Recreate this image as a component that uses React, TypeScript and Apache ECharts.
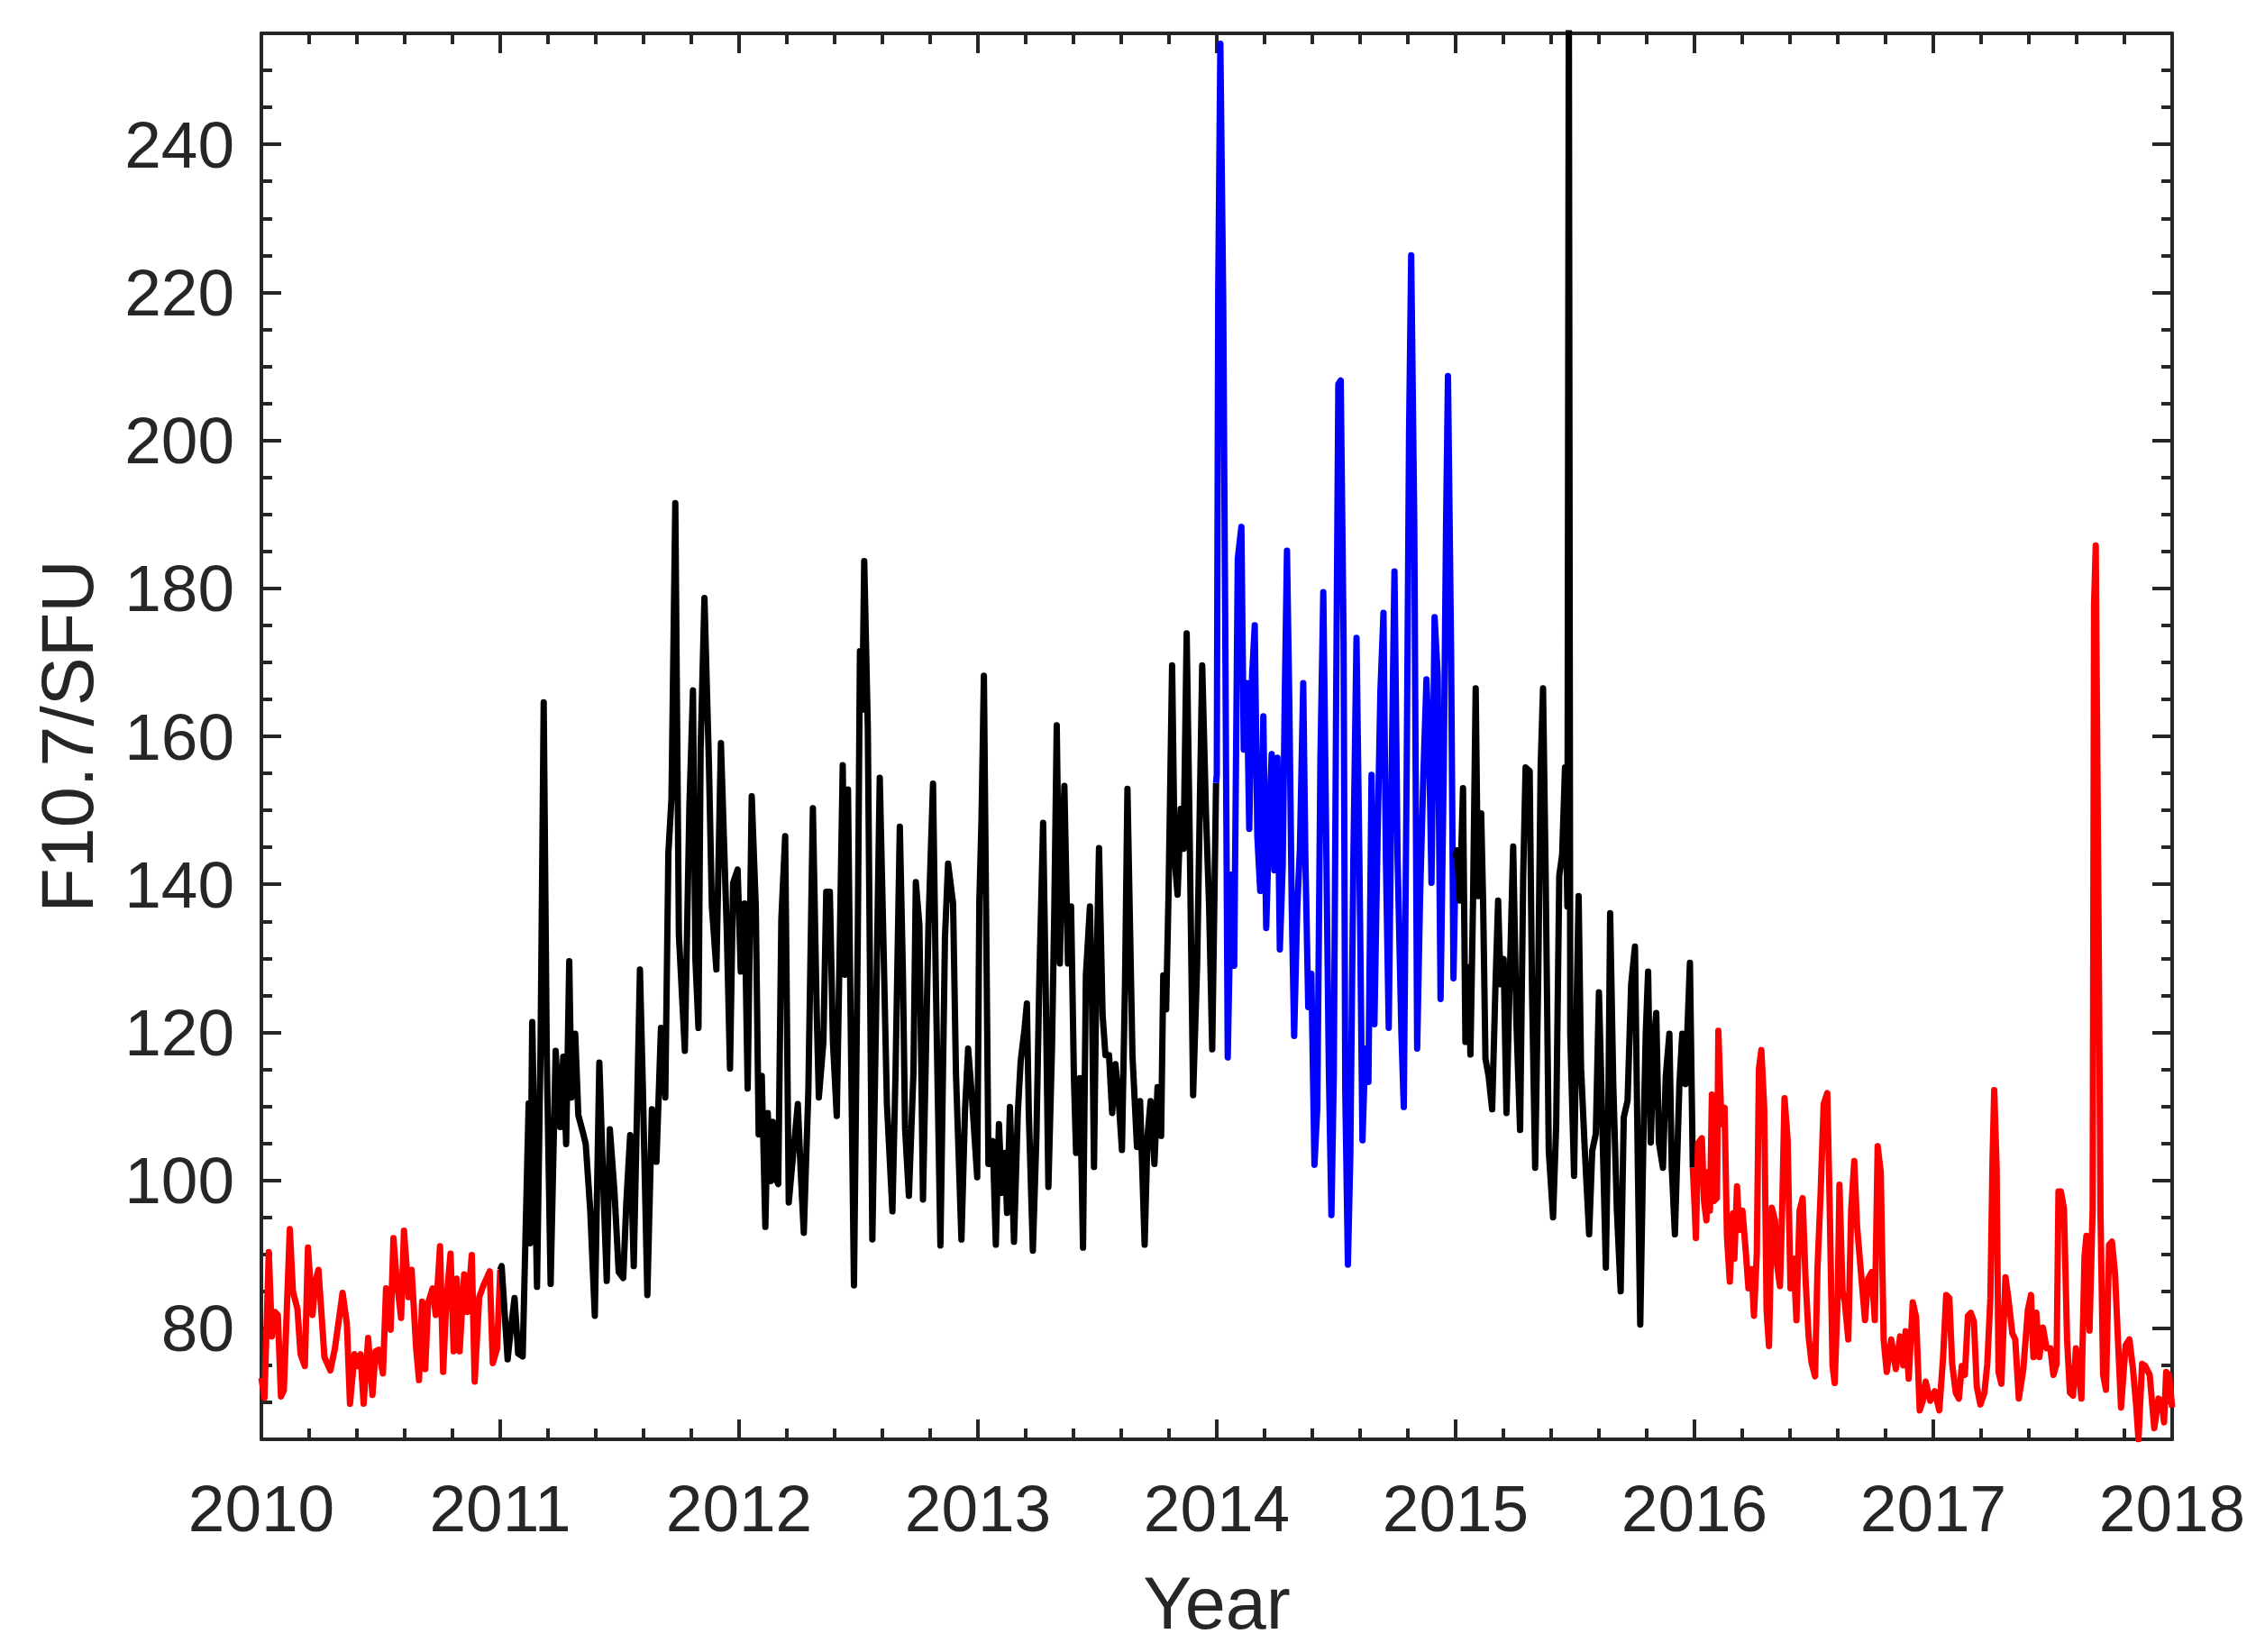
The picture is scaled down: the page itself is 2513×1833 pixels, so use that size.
import React, { useEffect, useRef } from "react";
import * as echarts from "echarts";

// [decimal year, F10.7 (SFU)]
const red2010: [number, number][] = [
  [2010.000, 73.3], [2010.013, 70.6], [2010.031, 90.3], [2010.044, 78.9], [2010.057, 82.2], [2010.069, 81.8],
  [2010.082, 70.8], [2010.094, 71.6], [2010.119, 93.4], [2010.132, 85.0], [2010.151, 82.6], [2010.164, 76.5],
  [2010.182, 74.9], [2010.195, 90.9], [2010.214, 81.8], [2010.226, 86.3], [2010.239, 87.9], [2010.252, 81.8],
  [2010.264, 76.1], [2010.289, 74.3], [2010.308, 77.3], [2010.340, 84.8], [2010.358, 80.6], [2010.371, 69.8],
  [2010.390, 76.5], [2010.403, 74.9], [2010.415, 76.5], [2010.428, 69.8], [2010.447, 78.7], [2010.465, 71.0],
  [2010.478, 76.9], [2010.491, 77.1], [2010.509, 73.9], [2010.522, 85.4], [2010.541, 79.8], [2010.553, 92.2],
  [2010.566, 86.7], [2010.585, 81.4], [2010.597, 93.2], [2010.610, 87.5], [2010.616, 84.2], [2010.629, 87.9],
  [2010.648, 77.3], [2010.660, 73.0], [2010.673, 83.6], [2010.686, 74.5], [2010.698, 83.4], [2010.717, 85.4],
  [2010.730, 81.8], [2010.748, 91.1], [2010.761, 74.1], [2010.774, 83.4], [2010.792, 90.1], [2010.805, 76.9],
  [2010.818, 86.7], [2010.830, 76.9], [2010.849, 87.3], [2010.862, 82.2], [2010.881, 89.9], [2010.893, 72.8],
  [2010.912, 84.2], [2010.931, 85.9], [2010.956, 87.7], [2010.969, 75.3], [2010.987, 77.3], [2011.000, 87.9],
];

const black2011: [number, number][] = [
  [2011.006, 88.4], [2011.031, 75.8], [2011.044, 79.8], [2011.060, 84.1], [2011.075, 76.6], [2011.094, 76.2],
  [2011.119, 110.4], [2011.125, 91.5], [2011.134, 121.4], [2011.154, 85.6], [2011.169, 118.2], [2011.182, 164.6],
  [2011.195, 116.7], [2011.211, 86.0], [2011.232, 117.5], [2011.251, 107.2], [2011.264, 116.7], [2011.276, 104.9],
  [2011.289, 129.6], [2011.298, 111.2], [2011.314, 119.8], [2011.327, 108.8], [2011.346, 106.5], [2011.358, 104.9],
  [2011.377, 95.9], [2011.396, 81.7], [2011.415, 115.9], [2011.434, 97.0], [2011.446, 86.4], [2011.459, 106.9],
  [2011.478, 98.6], [2011.496, 87.6], [2011.515, 86.8], [2011.528, 97.0], [2011.544, 106.1], [2011.559, 88.4],
  [2011.585, 128.5], [2011.597, 112.7], [2011.616, 84.5], [2011.635, 109.6], [2011.654, 102.5], [2011.673, 120.6],
  [2011.691, 111.2], [2011.704, 144.2], [2011.717, 151.6], [2011.733, 191.5], [2011.748, 133.2], [2011.773, 117.5],
  [2011.792, 150.5], [2011.807, 166.2], [2011.817, 130.0], [2011.830, 120.6], [2011.839, 158.3], [2011.855, 178.7],
  [2011.874, 156.0], [2011.886, 137.1], [2011.905, 128.5], [2011.924, 159.1], [2011.937, 145.7], [2011.949, 133.2],
  [2011.962, 115.1], [2011.975, 140.2], [2011.994, 142.0],
];

const black2012: [number, number][] = [
  [2012.007, 128.2], [2012.023, 137.4], [2012.036, 112.4], [2012.053, 151.9], [2012.070, 137.0], [2012.082, 106.2],
  [2012.095, 114.1], [2012.110, 93.7], [2012.120, 109.1], [2012.133, 99.9], [2012.141, 107.9], [2012.151, 100.4],
  [2012.164, 99.5], [2012.177, 135.3], [2012.193, 146.5], [2012.208, 97.0], [2012.227, 103.7], [2012.246, 110.3],
  [2012.258, 101.2], [2012.271, 92.9], [2012.290, 112.0], [2012.309, 150.3], [2012.325, 122.8], [2012.334, 111.2],
  [2012.353, 118.7], [2012.365, 139.0], [2012.380, 139.0], [2012.393, 118.7], [2012.409, 108.7], [2012.422, 132.8],
  [2012.434, 156.1], [2012.443, 127.8], [2012.456, 152.8], [2012.466, 124.5], [2012.481, 85.8], [2012.497, 132.8],
  [2012.506, 171.5], [2012.516, 163.6], [2012.524, 183.7], [2012.539, 161.1], [2012.558, 92.0], [2012.573, 121.2],
  [2012.589, 154.4], [2012.604, 132.8], [2012.619, 110.3], [2012.642, 95.8], [2012.655, 114.5], [2012.673, 147.8],
  [2012.686, 127.8], [2012.695, 107.0], [2012.711, 97.9], [2012.730, 114.5], [2012.740, 140.3], [2012.755, 134.5],
  [2012.770, 97.4], [2012.793, 134.5], [2012.812, 153.6], [2012.824, 126.2], [2012.843, 91.2], [2012.862, 132.8],
  [2012.875, 142.8], [2012.896, 137.4], [2012.908, 114.5], [2012.931, 92.0], [2012.946, 109.5], [2012.959, 117.8],
  [2012.975, 111.2], [2012.997, 100.4],
];

const black2013: [number, number][] = [
  [2013.006, 137.8], [2013.015, 148.7], [2013.025, 168.2], [2013.034, 137.0], [2013.044, 102.2], [2013.062, 105.3],
  [2013.075, 91.3], [2013.088, 107.6], [2013.100, 98.3], [2013.113, 103.7], [2013.122, 95.6], [2013.134, 109.9],
  [2013.151, 91.7], [2013.167, 109.1], [2013.179, 116.1], [2013.195, 120.4], [2013.205, 123.9], [2013.213, 109.1],
  [2013.230, 90.5], [2013.245, 106.0], [2013.257, 127.0], [2013.273, 148.3], [2013.283, 127.7], [2013.295, 99.1],
  [2013.310, 117.7], [2013.320, 137.0], [2013.330, 161.5], [2013.343, 129.3], [2013.352, 143.2], [2013.362, 153.3],
  [2013.377, 129.3], [2013.390, 137.0], [2013.402, 113.8], [2013.411, 103.7], [2013.427, 113.8], [2013.440, 90.9],
  [2013.452, 127.7], [2013.469, 137.0], [2013.478, 123.1], [2013.486, 101.8], [2013.496, 127.7], [2013.507, 144.9],
  [2013.522, 122.3], [2013.534, 116.9], [2013.549, 116.9], [2013.562, 109.1], [2013.576, 115.7], [2013.588, 111.5],
  [2013.603, 104.1], [2013.616, 127.0], [2013.626, 152.9], [2013.637, 133.9], [2013.647, 116.9], [2013.666, 104.5],
  [2013.679, 110.7], [2013.698, 91.3], [2013.710, 106.0], [2013.723, 110.7], [2013.739, 102.2], [2013.752, 112.6],
  [2013.767, 106.0], [2013.776, 127.7], [2013.788, 123.1], [2013.798, 138.6], [2013.813, 169.6], [2013.824, 143.2],
  [2013.836, 138.6], [2013.849, 150.2], [2013.861, 144.8], [2013.874, 173.9], [2013.886, 147.9], [2013.901, 111.5],
  [2013.918, 129.3], [2013.939, 169.6], [2013.955, 149.4], [2013.968, 137.0], [2013.981, 117.7], [2013.997, 153.7],
];

const blue2014: [number, number][] = [
  [2014.000, 154.8], [2014.006, 219.9], [2014.015, 253.6], [2014.027, 218.8], [2014.035, 177.3], [2014.046, 116.6],
  [2014.060, 141.3], [2014.073, 129.0], [2014.088, 184.0], [2014.103, 188.3], [2014.113, 158.2], [2014.126, 167.2],
  [2014.136, 147.5], [2014.148, 168.3], [2014.159, 175.0], [2014.170, 146.4], [2014.182, 139.1], [2014.195, 162.7],
  [2014.207, 134.1], [2014.220, 149.2], [2014.230, 157.6], [2014.241, 141.9], [2014.254, 157.1], [2014.264, 131.2],
  [2014.276, 142.5], [2014.285, 166.0], [2014.294, 185.1], [2014.304, 163.8], [2014.314, 136.9], [2014.324, 119.5],
  [2014.337, 136.9], [2014.348, 144.7], [2014.362, 167.2], [2014.371, 143.6], [2014.383, 123.4], [2014.396, 127.9],
  [2014.409, 102.1], [2014.421, 109.9], [2014.434, 157.1], [2014.446, 179.5], [2014.459, 143.6], [2014.469, 115.5],
  [2014.480, 95.3], [2014.490, 114.4], [2014.500, 166.0], [2014.509, 207.6], [2014.519, 208.1], [2014.531, 172.8],
  [2014.538, 112.2], [2014.549, 88.6], [2014.559, 103.2], [2014.572, 143.6], [2014.585, 173.3], [2014.597, 143.6],
  [2014.610, 105.4], [2014.622, 117.8], [2014.635, 113.3], [2014.648, 154.8], [2014.660, 121.1], [2014.673, 145.8],
  [2014.685, 166.0], [2014.698, 176.7], [2014.708, 143.6], [2014.720, 120.6], [2014.732, 154.8], [2014.744, 182.3],
  [2014.757, 143.6], [2014.773, 120.0], [2014.783, 109.9], [2014.795, 154.8], [2014.805, 200.8], [2014.814, 225.0],
  [2014.827, 188.5], [2014.839, 117.8], [2014.851, 138.0], [2014.865, 154.8], [2014.878, 167.7], [2014.890, 157.1],
  [2014.899, 140.2], [2014.912, 176.1], [2014.925, 168.3], [2014.937, 124.5], [2014.950, 154.8], [2014.960, 188.5],
  [2014.968, 208.7], [2014.981, 171.6], [2014.991, 127.3], [2015.000, 143.6],
];

const black2015: [number, number][] = [
  [2015.006, 144.6], [2015.018, 137.8], [2015.031, 153.0], [2015.041, 118.7], [2015.054, 128.8], [2015.062, 117.0],
  [2015.073, 137.8], [2015.084, 166.5], [2015.094, 138.4], [2015.107, 149.6], [2015.115, 137.8], [2015.125, 116.4],
  [2015.138, 114.1], [2015.153, 109.6], [2015.167, 126.5], [2015.178, 137.8], [2015.188, 126.5], [2015.201, 129.9],
  [2015.213, 109.1], [2015.226, 126.5], [2015.241, 145.1], [2015.255, 120.9], [2015.270, 106.8], [2015.283, 141.2],
  [2015.293, 155.8], [2015.310, 155.3], [2015.320, 125.4], [2015.333, 101.7], [2015.346, 127.7], [2015.356, 155.8],
  [2015.366, 166.5], [2015.377, 141.2], [2015.390, 104.0], [2015.408, 95.0], [2015.421, 107.4], [2015.434, 141.2],
  [2015.446, 144.0], [2015.458, 155.8], [2015.468, 137.0], [2015.474, 262.0], [2015.480, 119.8], [2015.496, 100.6],
  [2015.507, 124.3], [2015.515, 138.4], [2015.525, 115.3], [2015.541, 104.0], [2015.559, 92.7], [2015.572, 104.0],
  [2015.587, 106.3], [2015.600, 125.4], [2015.610, 113.0], [2015.629, 88.2], [2015.639, 108.5], [2015.647, 136.1],
  [2015.660, 113.0], [2015.675, 96.1], [2015.691, 85.0], [2015.704, 108.5], [2015.720, 110.8], [2015.735, 126.5],
  [2015.751, 131.6], [2015.763, 101.7], [2015.773, 80.5], [2015.786, 105.1], [2015.796, 119.8], [2015.806, 128.2],
  [2015.817, 105.1], [2015.830, 118.7], [2015.840, 122.6], [2015.851, 105.1], [2015.868, 101.7], [2015.880, 114.1],
  [2015.895, 119.8], [2015.905, 101.7], [2015.918, 92.7], [2015.937, 113.0], [2015.949, 119.8], [2015.962, 113.0],
  [2015.981, 129.4], [2015.993, 101.7],
];

const red2016: [number, number][] = [
  [2016.000, 97.0], [2016.006, 92.2], [2016.015, 105.0], [2016.031, 105.7], [2016.040, 97.2], [2016.050, 94.6],
  [2016.056, 101.1], [2016.065, 95.9], [2016.073, 111.6], [2016.081, 97.2], [2016.094, 97.6], [2016.100, 120.2],
  [2016.113, 107.6], [2016.126, 109.8], [2016.136, 92.4], [2016.148, 86.3], [2016.161, 95.5], [2016.167, 89.4],
  [2016.178, 99.2], [2016.188, 93.3], [2016.201, 95.9], [2016.214, 90.7], [2016.226, 85.4], [2016.239, 88.0],
  [2016.249, 81.7], [2016.261, 90.2], [2016.270, 115.1], [2016.280, 117.6], [2016.292, 109.8], [2016.302, 82.4],
  [2016.312, 77.6], [2016.324, 96.3], [2016.337, 94.6], [2016.346, 88.5], [2016.358, 85.7], [2016.367, 95.9],
  [2016.377, 111.1], [2016.390, 105.5], [2016.402, 85.4], [2016.415, 89.4], [2016.427, 81.1], [2016.440, 95.9],
  [2016.453, 97.6], [2016.465, 86.7], [2016.478, 78.9], [2016.490, 75.4], [2016.505, 73.5], [2016.515, 88.0],
  [2016.528, 98.1], [2016.541, 110.3], [2016.556, 111.8], [2016.566, 96.8], [2016.578, 75.0], [2016.587, 72.6],
  [2016.600, 84.6], [2016.607, 99.4], [2016.620, 85.0], [2016.629, 83.7], [2016.644, 78.5], [2016.656, 95.9],
  [2016.669, 102.6], [2016.681, 93.7], [2016.698, 87.2], [2016.714, 81.1], [2016.727, 86.7], [2016.742, 87.6],
  [2016.755, 81.1], [2016.767, 104.6], [2016.780, 101.1], [2016.792, 78.5], [2016.805, 74.1], [2016.824, 78.5],
  [2016.843, 74.5], [2016.861, 78.9], [2016.874, 75.0], [2016.884, 79.6], [2016.897, 73.2], [2016.914, 83.5],
  [2016.928, 81.5], [2016.943, 68.9], [2016.956, 70.2], [2016.968, 72.8], [2016.987, 70.2],
];

const red2017: [number, number][] = [
  [2017.006, 71.5], [2017.025, 68.9], [2017.041, 76.1], [2017.054, 84.5], [2017.067, 84.1], [2017.079, 75.2],
  [2017.094, 71.3], [2017.107, 70.5], [2017.119, 74.9], [2017.132, 73.7], [2017.145, 81.7], [2017.157, 82.1],
  [2017.170, 80.9], [2017.182, 72.1], [2017.197, 69.7], [2017.214, 71.3], [2017.226, 75.2], [2017.239, 84.1],
  [2017.248, 102.9], [2017.255, 112.2], [2017.265, 101.7], [2017.273, 74.1], [2017.285, 72.5], [2017.302, 86.9],
  [2017.314, 84.1], [2017.331, 79.3], [2017.343, 78.5], [2017.358, 70.5], [2017.377, 74.5], [2017.396, 82.5],
  [2017.409, 84.5], [2017.419, 76.1], [2017.431, 82.1], [2017.444, 76.1], [2017.459, 80.1], [2017.474, 77.3],
  [2017.490, 77.3], [2017.503, 73.7], [2017.516, 75.2], [2017.524, 98.5], [2017.534, 98.5], [2017.547, 96.1],
  [2017.560, 78.5], [2017.572, 71.3], [2017.585, 70.9], [2017.597, 77.3], [2017.610, 73.7], [2017.620, 70.5],
  [2017.633, 89.7], [2017.641, 92.5], [2017.654, 79.7], [2017.667, 96.1], [2017.673, 177.7], [2017.680, 185.8],
  [2017.692, 134.5], [2017.700, 95.3], [2017.711, 73.7], [2017.723, 71.7], [2017.736, 91.3], [2017.748, 91.7],
  [2017.761, 87.3], [2017.773, 78.5], [2017.786, 69.3], [2017.805, 77.7], [2017.821, 78.5], [2017.836, 74.5],
  [2017.849, 69.7], [2017.859, 65.0], [2017.874, 75.2], [2017.887, 74.9], [2017.906, 73.7], [2017.925, 66.5],
  [2017.943, 70.5], [2017.956, 70.1], [2017.966, 67.3], [2017.975, 74.1], [2017.987, 73.7], [2018.000, 69.3],
];

const yMajorTicks = [80, 100, 120, 140, 160, 180, 200, 220, 240];
const yMinorTicks = [70, 75, 85, 90, 95, 105, 110, 115, 125, 130, 135, 145, 150, 155, 165, 170, 175, 185, 190, 195,
  205, 210, 215, 225, 230, 235, 245, 250];

const AX = "#262626";
const FONT = 'Arial, "Liberation Sans", sans-serif';

const segments: { color: string; data: [number, number][] }[] = [
  { color: "#ff0000", data: red2010 },
  { color: "#000000", data: [red2010[red2010.length - 1], ...black2011, ...black2012, ...black2013] },
  { color: "#0000ff", data: [black2013[black2013.length - 1], ...blue2014] },
  { color: "#000000", data: [blue2014[blue2014.length - 1], ...black2015] },
  { color: "#ff0000", data: [black2015[black2015.length - 1], ...red2016, ...red2017] },
];

export default function App() {
  const ref = useRef<HTMLDivElement>(null);
  useEffect(() => {
    if (!ref.current) return;
    const chart = echarts.init(ref.current, undefined, { renderer: "svg" });
    const lineStyle = { color: AX, width: 4 };
    const gridRect = { left: 290, right: 103, top: 37, bottom: 236 };
    const baseX = {
      type: "value" as const,
      min: 2010,
      max: 2018,
      interval: 1,
      splitLine: { show: false },
      axisLine: { show: true, onZero: false, lineStyle },
      axisTick: { show: true, inside: true, length: 22, lineStyle },
      minorTick: { show: true, splitNumber: 5, length: 12, lineStyle },
    };
    chart.setOption({
      animation: false,
      backgroundColor: "#ffffff",
      grid: [gridRect, gridRect],
      xAxis: [
        {
          ...baseX,
          gridIndex: 0,
          position: "bottom",
          axisLabel: { show: true, color: AX, fontSize: 73, fontFamily: FONT, margin: 40, formatter: (v: number) => String(v) },
          name: "Year",
          nameLocation: "middle",
          nameGap: 141,
          nameTextStyle: { color: AX, fontSize: 81, fontFamily: FONT },
        },
        { ...baseX, gridIndex: 0, position: "top", axisLabel: { show: false } },
        { type: "value", gridIndex: 1, min: 2010, max: 2018, show: false },
      ],
      yAxis: [
        {
          type: "value",
          gridIndex: 0,
          position: "left",
          min: 65,
          max: 255,
          splitLine: { show: false },
          axisLine: { show: true, onZero: false, lineStyle },
          axisTick: { show: true, inside: true, length: 22, lineStyle, customValues: yMajorTicks },
          axisLabel: { show: true, color: AX, fontSize: 73, fontFamily: FONT, margin: 30, customValues: yMajorTicks },
          name: "F10.7/SFU",
          nameLocation: "middle",
          nameGap: 175,
          nameTextStyle: { color: AX, fontSize: 81, fontFamily: FONT },
        },
        {
          type: "value",
          gridIndex: 0,
          position: "right",
          min: 65,
          max: 255,
          splitLine: { show: false },
          axisLine: { show: true, onZero: false, lineStyle },
          axisTick: { show: true, inside: true, length: 22, lineStyle, customValues: yMajorTicks },
          axisLabel: { show: false },
        },
        {
          type: "value",
          gridIndex: 1,
          position: "left",
          min: 65,
          max: 255,
          splitLine: { show: false },
          axisLine: { show: false },
          axisTick: { show: true, inside: true, length: 12, lineStyle, customValues: yMinorTicks },
          axisLabel: { show: false },
        },
        {
          type: "value",
          gridIndex: 1,
          position: "right",
          min: 65,
          max: 255,
          splitLine: { show: false },
          axisLine: { show: false },
          axisTick: { show: true, inside: true, length: 12, lineStyle, customValues: yMinorTicks },
          axisLabel: { show: false },
        },
      ],
      series: segments.map((s) => ({
        type: "line",
        xAxisIndex: 0,
        yAxisIndex: 0,
        data: s.data,
        showSymbol: false,
        symbol: "none",
        clip: true,
        lineStyle: { color: s.color, width: 7, join: "round" },
        itemStyle: { color: s.color },
      })),
    });
    return () => chart.dispose();
  }, []);
  return (
    <div
      ref={ref}
      style={{ position: "absolute", left: 0, top: 0, width: 2513, height: 1833, background: "#fff" }}
    />
  );
}
